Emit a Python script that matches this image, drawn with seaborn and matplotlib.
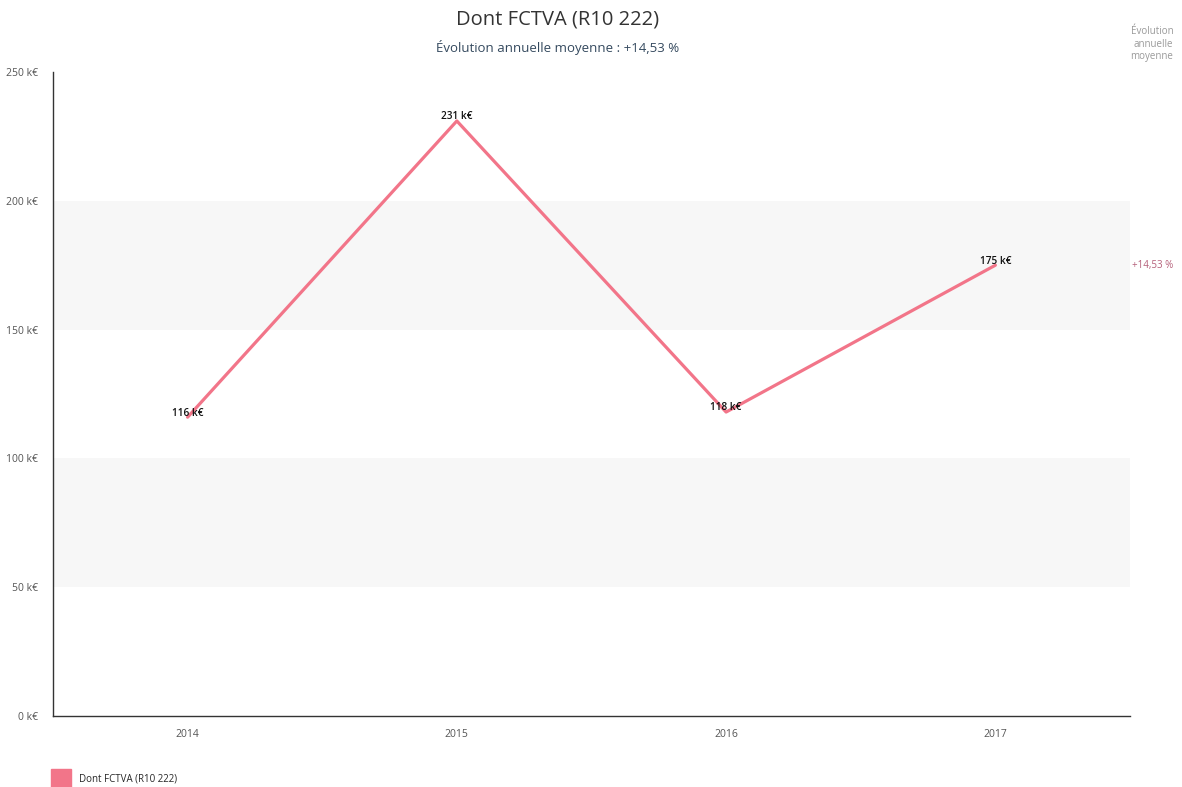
import matplotlib
matplotlib.use("Agg")
import matplotlib.pyplot as plt
import matplotlib.patches as mpatches
import seaborn as sns
import pandas as pd

years = ["2014", "2015", "2016", "2017"]
values = [116, 231, 118, 175]
series_name = "Dont FCTVA (R10 222)"
subtitle = "Évolution annuelle moyenne : +14,53 %"
side_title = "Évolution\nannuelle\nmoyenne"
side_value = "+14,53 %"
y_ticks = [0, 50, 100, 150, 200, 250]

sns.set_theme(style="white")
plt.rcParams["font.family"] = ["Open Sans", "DejaVu Sans"]

line_color = "#f27589"

df = pd.DataFrame({"year": years, "value": values})
df["pos"] = range(len(years))

fig = plt.figure(figsize=(11.82, 7.87), dpi=100)
ax = fig.add_axes([0.0448, 0.0902, 0.9112, 0.8183])

# alternating background bands
for lo, hi in [(50, 100), (150, 200)]:
    ax.axhspan(lo, hi, color="#f7f7f7", zorder=0, lw=0)

sns.lineplot(data=df, x="pos", y="value", ax=ax, color=line_color,
             linewidth=2.3, legend=False, zorder=3)

for x, v in zip(df["pos"], df["value"]):
    ax.annotate(f"{v} k€", (x, v), xytext=(0, -1), textcoords="offset points",
                ha="center", va="bottom", fontsize=7.2, color="#111111",
                fontweight="semibold", zorder=4)

ax.set_xlim(-0.5, len(years) - 0.5)
ax.set_ylim(0, 250)
ax.set_xticks(df["pos"])
ax.set_xticklabels(years)
ax.set_yticks(y_ticks)
ax.set_yticklabels([f"{t} k€" for t in y_ticks])
ax.set_xlabel("")
ax.set_ylabel("")
ax.tick_params(axis="both", labelsize=7.5, colors="#555555", length=3, width=0.8,
               direction="out")
ax.tick_params(axis="y", pad=8)
ax.tick_params(axis="x", pad=6)

for side in ["top", "right"]:
    ax.spines[side].set_visible(False)
for side in ["left", "bottom"]:
    ax.spines[side].set_color("#333333")
    ax.spines[side].set_linewidth(1.0)

fig.text(0.472, 0.975, series_name, ha="center", va="center", fontsize=14.5,
         color="#333333")
fig.text(0.472, 0.940, subtitle, ha="center", va="center", fontsize=9.5,
         color="#34495e", fontweight="medium")

fig.text(0.9925, 0.944, side_title, ha="right", va="center", fontsize=7,
         color="#999999", linespacing=1.15, multialignment="right")
fig.text(0.9925, 0.663, side_value, ha="right", va="center", fontsize=7,
         color="#b5607a")

# legend
handle = mpatches.Patch(color=line_color, label=series_name)
fig.legend(handles=[handle], loc="lower left", bbox_to_anchor=(0.036, -0.012),
           frameon=False, prop={"size": 7, "weight": "medium"},
           handlelength=2.0, handleheight=2.6, handletextpad=0.8)

fig.savefig("out.png", dpi=100)
